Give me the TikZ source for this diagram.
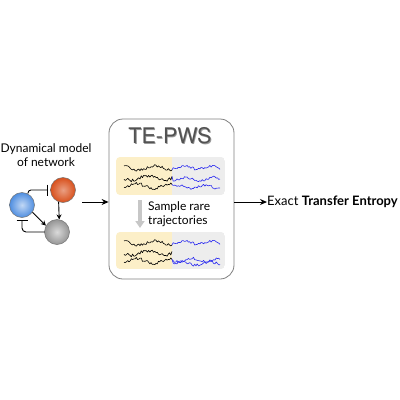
\documentclass[tikz,border=0pt]{standalone}
\usepackage{fontspec}
\setmainfont{Lato}
\newfontfamily\herosfont{TeX Gyre Heros}
\usetikzlibrary{arrows.meta,calc}
\definecolor{panely}{HTML}{FCEFC8}
\definecolor{panelg}{HTML}{EDEDED}
\definecolor{trajblue}{HTML}{2A2AF0}
\definecolor{ballblue}{HTML}{4F8EE0}
\definecolor{ballorange}{HTML}{D8501C}
\definecolor{ballgray}{HTML}{959595}
\tikzset{
  ball/.style={circle, minimum size=25pt, inner sep=0pt, draw=black!55, line width=0.5pt, shading=radial},
  conn/.style={line width=0.9pt, black},
  mainarrow/.style={line width=1pt, -{Stealth[length=7pt,width=6pt]}},
  lbl/.style={font=\fontsize{12}{14}\selectfont, inner sep=0pt, align=center},
  traj/.style={line width=0.6pt, line join=round},
  titlefont/.style={inner sep=0pt, font=\herosfont\fontsize{21.5}{24}\selectfont},
}
% seed, xstart, xend, ybase, phase
\newcommand\trajblack[5]{%
  \pgfmathsetseed{#1}%
  \draw[traj, black] plot[domain=#2:#3, samples=40] (\x, {#4 + 2.2*sin(\x*11+#5) + 1.6*rand}) coordinate (tend);
}
\newcommand\trajblue[5]{%
  \pgfmathsetseed{#1}%
  \draw[traj, trajblue] (tend) -- plot[domain=#2:#3, samples=38] (\x, {#4 + 1.7*sin(\x*13+#5) + 1.3*rand});
}
\begin{document}
\begin{tikzpicture}[x=1pt,y=-1pt]
\useasboundingbox (0,0) rectangle (400,400);

% ---- network model ----
\node[lbl] (title1) at (46,155) {Dynamical model\\of network};
\node[ball, inner color=ballblue!35!white, outer color=ballblue] (nb) at (22,205) {};
\node[ball, inner color=ballorange!55!white, outer color=ballorange] (no) at (63,190) {};
\node[ball, inner color=ballgray!35!white, outer color=ballgray] (ng) at (57,232) {};
\draw[conn, rounded corners=3pt, -{Bar[width=11pt,line width=1pt]}] (nb.62) |- ([xshift=-2pt]no.west);
\draw[conn, -{Stealth[length=5pt,width=5pt]}] (no.250) -- (ng.80);
\draw[conn, -{Stealth[length=5pt,width=5pt]}] (nb.-35) -- (ng.150);
\draw[conn, rounded corners=4pt, -{Bar[width=11pt,line width=1pt]}] (ng.west) -| ($(nb.south)+(0,2)$);

% ---- main box ----
\node[draw=black!50, line width=0.8pt, fill=white, rounded corners=14pt, minimum width=125pt, minimum height=160pt, inner sep=0pt] (box) at (171.5,199) {};
\node[titlefont, text=black!40] (tepwsshadow) at (170.8,136.8) {TE-PWS};
\node[titlefont, text=black!68] (tepws) at (170,136) {TE-PWS};

% top panel
\begin{scope}
\clip[rounded corners=4pt] (116,157) rectangle (225,195);
\fill[panely] (116,157) rectangle (172,195);
\fill[panelg] (172,157) rectangle (225,195);
\end{scope}
\trajblack{11}{124}{172}{168}{0}
\trajblue{21}{173.2}{220}{167.5}{40}
\trajblack{12}{124}{172}{178}{90}
\trajblue{22}{173.2}{220}{179}{10}
\trajblack{13}{124}{172}{186}{200}
\trajblue{23}{173.2}{220}{187}{120}

% gray arrow
\coordinate (gas) at (140,200);
\coordinate (gae) at (140,228);
\draw[line width=3.5pt, black!22, -{Triangle[width=9pt,length=7pt]}] (gas) -- (gae);
\node[lbl, anchor=west, align=left] (sample) at (148,214) {Sample rare\\trajectories};

% bottom panel
\begin{scope}
\clip[rounded corners=4pt] (116,232) rectangle (225,269);
\fill[panely] (116,232) rectangle (172,269);
\fill[panelg] (172,232) rectangle (225,269);
\end{scope}
\trajblack{11}{124}{172}{243}{0}
\trajblue{21}{173.2}{220}{242.5}{40}
\trajblack{12}{124}{172}{253}{90}
\trajblack{13}{124}{172}{261}{200}
\trajblue{24}{173.2}{220}{260}{300}
\trajblue{25}{173.2}{220}{263.5}{60}

% ---- arrows and result ----
\node[lbl, anchor=west, font=\fontsize{13}{15}\selectfont] (result) at (267,202) {Exact \textbf{Transfer Entropy}};
\draw[mainarrow] (82,202) -- (box.west |- 0,202);
\draw[mainarrow] (box.east |- 0,202) -- (result.west);
\end{tikzpicture}
\end{document}
